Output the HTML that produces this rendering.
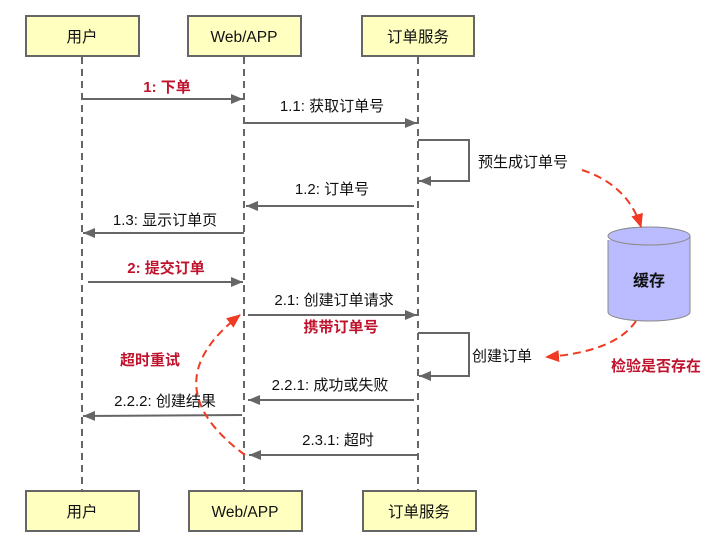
<!DOCTYPE html>
<html><head><meta charset="utf-8"><style>
html,body{margin:0;padding:0;background:#fff;}
svg{display:block;font-family:"Liberation Sans","Noto Sans CJK SC",sans-serif;}
</style></head><body>
<svg width="721" height="550" viewBox="0 0 721 550" xmlns="http://www.w3.org/2000/svg">
<defs>
<marker id="ga" markerWidth="12" markerHeight="10" refX="12" refY="5" orient="auto" markerUnits="userSpaceOnUse"><path d="M0,0 L12,5 L0,10 z" fill="#666"/></marker>
<marker id="ra" markerWidth="14" markerHeight="12" refX="13" refY="6" orient="auto" markerUnits="userSpaceOnUse"><path d="M0,0 L14,6 L0,12 z" fill="#f03a24"/></marker>
</defs>
<g stroke="#666" stroke-width="2" stroke-dasharray="7,5">
<line x1="82" y1="57" x2="82" y2="490"/>
<line x1="244" y1="57" x2="244" y2="490"/>
<line x1="418" y1="57" x2="418" y2="490"/>
</g>
<g fill="#ffffc0" stroke="#666" stroke-width="2">
<rect x="26" y="16" width="113" height="40"/>
<rect x="188" y="16" width="113" height="40"/>
<rect x="362" y="16" width="112" height="40"/>
<rect x="26" y="491" width="113" height="40"/>
<rect x="189" y="491" width="113" height="40"/>
<rect x="363" y="491" width="113" height="40"/>
</g>
<g font-size="15.5" fill="#111" text-anchor="middle">
<text x="82" y="42">用户</text><text x="244" y="42">Web/APP</text><text x="418" y="42">订单服务</text>
<text x="82" y="517">用户</text><text x="245" y="517">Web/APP</text><text x="419" y="517">订单服务</text>
</g>
<g stroke="#666" stroke-width="2" fill="none" marker-end="url(#ga)">
<line x1="82" y1="99" x2="243" y2="99"/>
<line x1="245" y1="123" x2="417" y2="123"/>
<polyline points="418,140 469,140 469,181 419,181"/>
<line x1="414" y1="206" x2="246" y2="206"/>
<line x1="244" y1="233" x2="83" y2="233"/>
<line x1="88" y1="282" x2="243" y2="282"/>
<line x1="248" y1="315" x2="417" y2="315"/>
<polyline points="418,333 469,333 469,376 419,376"/>
<line x1="414" y1="400" x2="248" y2="400"/>
<line x1="242" y1="415" x2="83" y2="416"/>
<line x1="418" y1="455" x2="249" y2="455"/>
</g>
<g font-size="15" fill="#111" text-anchor="middle">
<text x="332" y="111">1.1: 获取订单号</text>
<text x="478" y="167" text-anchor="start">预生成订单号</text>
<text x="332" y="194">1.2: 订单号</text>
<text x="165" y="225">1.3: 显示订单页</text>
<text x="334" y="305">2.1: 创建订单请求</text>
<text x="472" y="361" text-anchor="start">创建订单</text>
<text x="330" y="390">2.2.1: 成功或失败</text>
<text x="165" y="406">2.2.2: 创建结果</text>
<text x="338" y="445">2.3.1: 超时</text>
</g>
<g font-size="15" fill="#c0142e" font-weight="bold" text-anchor="middle">
<text x="167" y="92">1: 下单</text>
<text x="166" y="273">2: 提交订单</text>
<text x="341" y="332">携带订单号</text>
<text x="150" y="365">超时重试</text>
<text x="656" y="371">检验是否存在</text>
</g>
<path d="M608,240 L608,312 A41,9 0 0 0 690,312 L690,236" fill="#bbbbff" stroke="#888" stroke-width="1"/>
<ellipse cx="649" cy="236" rx="41" ry="9" fill="#bbbbff" stroke="#888" stroke-width="1"/>
<text x="649" y="286" font-size="16" font-weight="bold" text-anchor="middle" fill="#111">缓存</text>
<g stroke="#f03a24" stroke-width="2" fill="none" stroke-dasharray="8,5" marker-end="url(#ra)">
<path d="M582,170 Q628,185 641,227"/>
<path d="M636,321 Q615,352 546,357"/>
<path d="M245,455 Q150,385 240,315"/>
</g>
</svg>
</body></html>
